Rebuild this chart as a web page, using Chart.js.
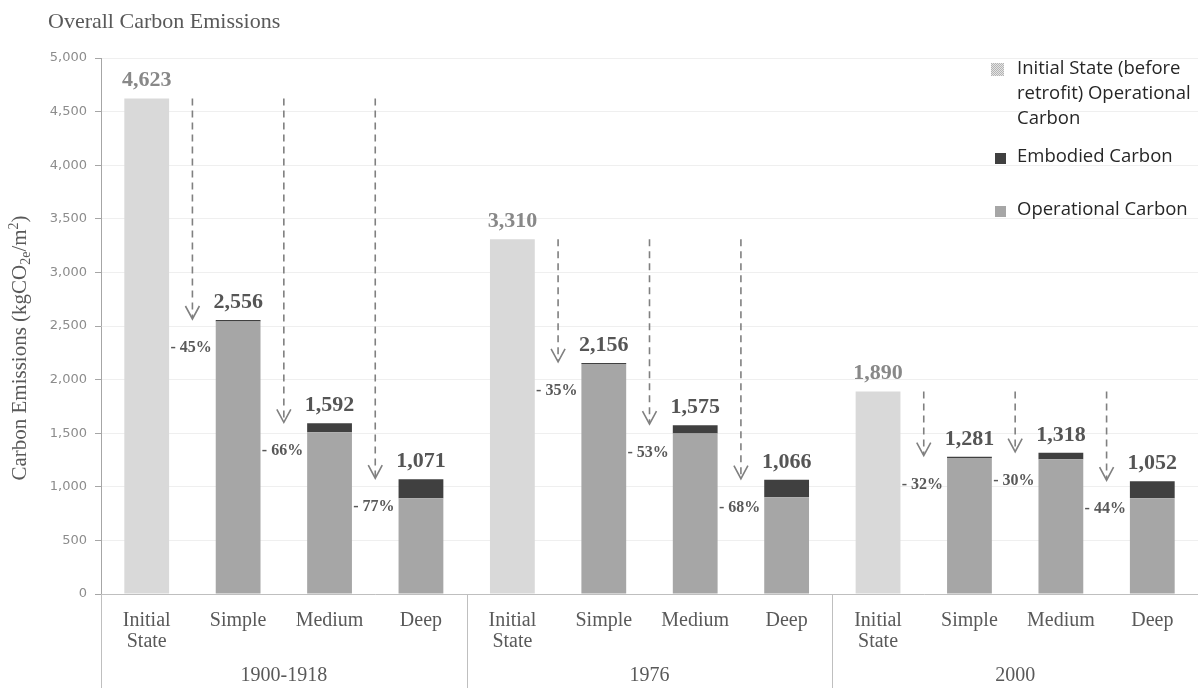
<!DOCTYPE html>
<html>
<head>
<meta charset="utf-8">
<script src="https://cdn.jsdelivr.net/npm/chart.js@4.4.1/dist/chart.umd.min.js"></script>
<style>
  html, body { margin: 0; padding: 0; background: #fff; }
  #contenedor { width: 1198px; height: 688px; position: relative; }
</style>
</head>
<body>
<div id="contenedor"><canvas id="cvx" width="1198" height="688"></canvas></div>
<script>
// datos
const grupos = ['1900-1918', '1976', '2000'];
const etiquetas = [
  ['Initial', 'State'], 'Simple', 'Medium', 'Deep',
  ['Initial', 'State'], 'Simple', 'Medium', 'Deep',
  ['Initial', 'State'], 'Simple', 'Medium', 'Deep'
];
const estadoInicial = [4623, null, null, null, 3310, null, null, null, 1890, null, null, null];
const operacional   = [null, 2542, 1508, 893, null, 2146, 1497, 902, null, 1268, 1256, 894];
const incorporado   = [null, 14, 84, 178, null, 10, 78, 164, null, 13, 62, 158];
const reduccion     = [null, 45, 66, 77, null, 35, 53, 68, null, 32, 30, 44];
const ticksY = [0, 500, 1000, 1500, 2000, 2500, 3000, 3500, 4000, 4500, 5000];

const SERIF = '"Liberation Serif", "Times New Roman", serif';
const SANS = '"Open Sans", sans-serif';

function total(i) {
  return (estadoInicial[i] || 0) + (operacional[i] || 0) + (incorporado[i] || 0);
}

function envolver(ctx, texto, ancho) {
  let palabras = texto.split(' ');
  let lineas = [];
  let actual = '';
  for (let p of palabras) {
    let prueba = actual ? actual + ' ' + p : p;
    if (ctx.measureText(prueba).width > ancho && actual) {
      lineas.push(actual);
      actual = p;
    } else {
      actual = prueba;
    }
  }
  lineas.push(actual);
  return lineas;
}

function patronGris(ctx) {
  let c = document.createElement('canvas');
  c.width = 2; c.height = 2;
  let g = c.getContext('2d');
  g.fillStyle = '#e4e4e4'; g.fillRect(0, 0, 2, 2);
  g.fillStyle = '#b4b4b4'; g.fillRect(0, 0, 1, 1); g.fillRect(1, 1, 1, 1);
  return ctx.createPattern(c, 'repeat');
}

const extras = {
  id: 'extras',
  afterDatasetsDraw(chart) {
    const ctx = chart.ctx;
    const x = chart.scales.x;
    const y = chart.scales.y;
    const metaOp = chart.getDatasetMeta(1);
    const metaIni = chart.getDatasetMeta(0);
    ctx.save();

    // flechas y porcentajes
    for (let i = 0; i < etiquetas.length; i++) {
      if (reduccion[i] == null) continue;
      let g = Math.floor(i / 4);
      let xa = (x.getPixelForValue(i - 1) + x.getPixelForValue(i)) / 2;
      let y0 = y.getPixelForValue(estadoInicial[g * 4]);
      let y1 = y.getPixelForValue(total(i));
      ctx.strokeStyle = '#808080';
      ctx.lineWidth = 1.6;
      ctx.setLineDash([7, 5]);
      ctx.beginPath();
      ctx.moveTo(xa, y0);
      ctx.lineTo(xa, y1 - 2);
      ctx.stroke();
      ctx.setLineDash([]);
      ctx.beginPath();
      ctx.moveTo(xa - 7, y1 - 14);
      ctx.lineTo(xa, y1 - 1);
      ctx.lineTo(xa + 7, y1 - 14);
      ctx.stroke();

      let barra = metaOp.data[i];
      let izq = barra.x - barra.width / 2;
      ctx.font = 'bold 16px ' + SERIF;
      ctx.fillStyle = '#595959';
      ctx.textAlign = 'right';
      ctx.textBaseline = 'middle';
      ctx.fillText('- ' + reduccion[i] + '%', izq - 4, y1 + 28);
    }

    // totales encima de cada barra
    ctx.font = 'bold 22px ' + SERIF;
    ctx.textAlign = 'center';
    ctx.textBaseline = 'alphabetic';
    for (let i = 0; i < etiquetas.length; i++) {
      let t = total(i);
      let xb = x.getPixelForValue(i);
      ctx.fillStyle = estadoInicial[i] != null ? '#888888' : '#555555';
      ctx.fillText(t.toLocaleString('en-US'), xb, y.getPixelForValue(t) - 12);
    }
    ctx.restore();
  },
  afterDraw(chart) {
    const ctx = chart.ctx;
    const area = chart.chartArea;
    const x = chart.scales.x;
    ctx.save();

    // separadores de grupo
    ctx.strokeStyle = '#bfbfbf';
    ctx.lineWidth = 1;
    let paso = (area.right - area.left) / etiquetas.length;
    for (let g = 0; g <= grupos.length; g++) {
      let xs = Math.round(area.left + g * 4 * paso) + 0.5;
      ctx.beginPath();
      ctx.moveTo(xs, area.bottom);
      ctx.lineTo(xs, chart.height);
      ctx.stroke();
    }
    ctx.font = '20px ' + SERIF;
    ctx.fillStyle = '#595959';
    ctx.textAlign = 'center';
    ctx.textBaseline = 'middle';
    for (let g = 0; g < grupos.length; g++) {
      let xc = (x.getPixelForValue(g * 4) + x.getPixelForValue(g * 4 + 3)) / 2;
      ctx.fillText(grupos[g], xc, 676);
    }

    // titulo
    ctx.font = '22px ' + SERIF;
    ctx.textAlign = 'left';
    ctx.textBaseline = 'alphabetic';
    ctx.fillText('Overall Carbon Emissions', 48, 28);

    // titulo del eje y con subindices
    let partes = [
      ['Carbon Emissions (kgCO', 21, 0],
      ['2e', 14, 4],
      ['/m', 21, 0],
      ['2', 14, -8],
      [')', 21, 0]
    ];
    let ancho = 0;
    for (let p of partes) { ctx.font = p[1] + 'px ' + SERIF; ancho += ctx.measureText(p[0]).width; }
    ctx.translate(26, 348);
    ctx.rotate(-Math.PI / 2);
    let cx = -ancho / 2;
    for (let p of partes) {
      ctx.font = p[1] + 'px ' + SERIF;
      ctx.fillText(p[0], cx, p[2]);
      cx += ctx.measureText(p[0]).width;
    }
    ctx.setTransform(1, 0, 0, 1, 0, 0);

    // leyenda
    ctx.font = '18.5px ' + SANS;
    ctx.textBaseline = 'middle';
    ctx.textAlign = 'left';
    ctx.fillStyle = '#262626';
    let ds = chart.data.datasets;
    ctx.fillStyle = patronGris(ctx);
    ctx.fillRect(991, 63, 13, 13);
    ctx.fillStyle = '#262626';
    let lineas = envolver(ctx, ds[0].label, 175);
    lineas.forEach((l, k) => ctx.fillText(l, 1017, 69 + k * 25));
    ctx.fillStyle = ds[2].backgroundColor;
    ctx.fillRect(995, 153, 11, 11);
    ctx.fillStyle = '#262626';
    ctx.fillText(ds[2].label, 1017, 157);
    ctx.fillStyle = ds[1].backgroundColor;
    ctx.fillRect(995, 206, 11, 11);
    ctx.fillStyle = '#262626';
    ctx.fillText(ds[1].label, 1017, 210);
    ctx.restore();
  }
};

const config = {
  type: 'bar',
  data: {
    labels: etiquetas,
    datasets: [
      { label: 'Initial State (before retrofit) Operational Carbon', data: estadoInicial, backgroundColor: '#d9d9d9' },
      { label: 'Operational Carbon', data: operacional, backgroundColor: '#a6a6a6' },
      { label: 'Embodied Carbon', data: incorporado, backgroundColor: '#404040' }
    ]
  },
  options: {
    responsive: false,
    devicePixelRatio: 1,
    animation: false,
    layout: { padding: { top: 58, left: 0, right: 0, bottom: 0 } },
    datasets: { bar: { barPercentage: 0.49, categoryPercentage: 1.0, borderWidth: 0 } },
    plugins: { legend: { display: false }, tooltip: { enabled: false }, title: { display: false } },
    scales: {
      x: {
        stacked: true,
        grid: { display: false, drawTicks: false },
        border: { color: '#bfbfbf' },
        ticks: {
          autoSkip: false, maxRotation: 0, padding: 16, color: '#595959',
          font: { family: SERIF, size: 20, lineHeight: 1.05 }
        },
        afterFit(s) { s.height = 94; }
      },
      y: {
        stacked: true,
        min: 0, max: 5000,
        afterBuildTicks(s) { s.ticks = ticksY.map(v => ({ value: v })); },
        grid: { color: '#efefef', tickColor: '#a6a6a6', tickLength: 6 },
        border: { color: '#a6a6a6' },
        ticks: {
          padding: 8, color: '#8c8c8c',
          font: { family: '"DejaVu Sans", sans-serif', size: 13 },
          callback: v => v.toLocaleString('en-US')
        },
        afterFit(s) { s.width = 101; }
      }
    }
  },
  plugins: [extras]
};

const grafico = new Chart(document.getElementById('cvx'), config);
</script>
</body>
</html>
